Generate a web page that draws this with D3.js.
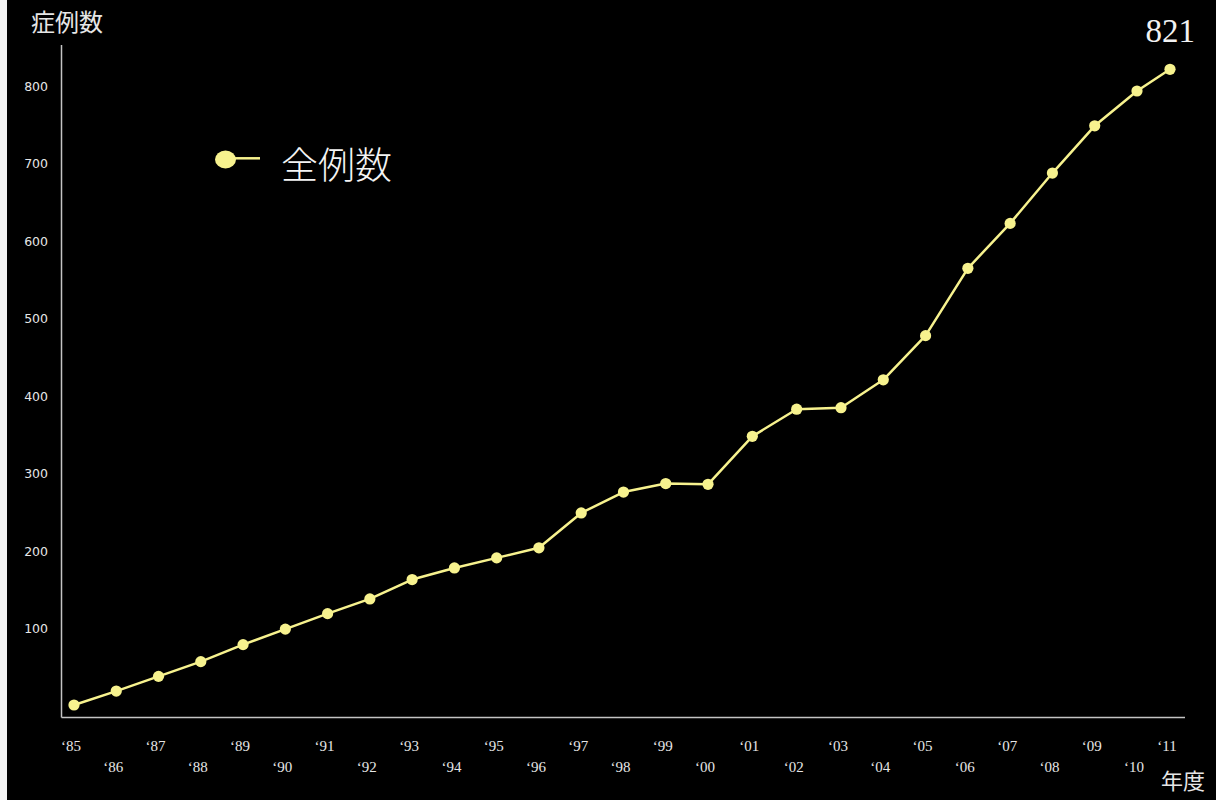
<!DOCTYPE html>
<html>
<head>
<meta charset="utf-8">
<script src="https://cdn.jsdelivr.net/npm/d3@7"></script>
<style>
  html, body { margin: 0; padding: 0; background: #000; }
  svg { display: block; }
</style>
</head>
<body>
<script>
// Cumulative case counts per fiscal year, 1985–2011
const years = ["85","86","87","88","89","90","91","92","93","94","95","96","97","98",
               "99","00","01","02","03","04","05","06","07","08","09","10","11"];
const cases = [0, 18, 37, 56, 78, 98, 118, 137, 162, 177, 190, 203, 248, 275,
               286, 285, 347, 382, 384, 420, 477, 564, 622, 687, 748, 793, 821];
const yTicks = [100, 200, 300, 400, 500, 600, 700, 800];
const yTitle = "症例数";
const xTitle = "年度";
const seriesName = "全例数";

const W = 1216, H = 800;
const lineColor = "#f7f28e";
const axisColor = "#c4c4c4";
const textColor = "#e6e6e6";

const svg = d3.select("body").append("svg")
  .attr("width", W).attr("height", H);

svg.append("rect").attr("width", W).attr("height", H).attr("fill", "#000");
// narrow light strip along the left edge
svg.append("rect").attr("x", 0).attr("y", 0).attr("width", 7).attr("height", H).attr("fill", "#f4f4f4");

// year index -> horizontal position; the year columns are not evenly spaced,
// so the scale is piecewise linear
const x = d3.scaleLinear().domain([0, 15, 18, 25, 26]).range([74, 708, 841, 1137, 1170]);
const y = d3.scaleLinear().domain([0, 821]).range([705, 69.3]);

// axes frame
const axisLeftX = 61.5, axisBottomY = 717.5;
svg.append("line")
  .attr("x1", axisLeftX).attr("x2", axisLeftX)
  .attr("y1", 45).attr("y2", axisBottomY)
  .attr("stroke", axisColor).attr("stroke-width", 1.5);
svg.append("line")
  .attr("x1", axisLeftX).attr("x2", 1185)
  .attr("y1", axisBottomY).attr("y2", axisBottomY)
  .attr("stroke", axisColor).attr("stroke-width", 1.5);

// y tick labels
svg.append("g").selectAll("text").data(yTicks).join("text")
  .attr("x", 48)
  .attr("y", d => y(d) + 1)
  .attr("text-anchor", "end")
  .attr("dominant-baseline", "central")
  .attr("font-family", "'DejaVu Sans', sans-serif")
  .attr("font-size", 12.5)
  .attr("fill", textColor)
  .text(d => d);

// x tick labels, staggered across two rows
svg.append("g").selectAll("text").data(years).join("text")
  .attr("x", (d, i) => x(i) - 3)
  .attr("y", (d, i) => i % 2 === 0 ? 750.5 : 772)
  .attr("text-anchor", "middle")
  .attr("font-family", "'Liberation Serif', serif")
  .attr("font-size", 15)
  .attr("fill", textColor)
  .text(d => "\u2018" + d);

// axis titles
svg.append("text")
  .attr("x", 31).attr("y", 31)
  .attr("font-family", "'Noto Sans CJK JP', sans-serif")
  .attr("font-size", 24)
  .attr("fill", textColor)
  .text(yTitle);

svg.append("text")
  .attr("x", 1161).attr("y", 789)
  .attr("font-family", "'Noto Sans CJK JP', sans-serif")
  .attr("font-size", 22)
  .attr("fill", textColor)
  .text(xTitle);

// series line and markers
const line = d3.line()
  .x((d, i) => x(i))
  .y(d => y(d));

svg.append("path")
  .datum(cases)
  .attr("d", line)
  .attr("fill", "none")
  .attr("stroke", lineColor)
  .attr("stroke-width", 2.5)
  .attr("stroke-linejoin", "round");

svg.append("g").selectAll("circle").data(cases).join("circle")
  .attr("cx", (d, i) => x(i))
  .attr("cy", d => y(d))
  .attr("r", 5.6)
  .attr("fill", lineColor);

// total label for the final year
svg.append("text")
  .attr("x", 1195).attr("y", 41.5)
  .attr("text-anchor", "end")
  .attr("font-family", "'Liberation Serif', serif")
  .attr("font-size", 33)
  .attr("fill", "#f2f2f2")
  .text(cases[cases.length - 1]);

// legend
const legend = svg.append("g");
legend.append("line")
  .attr("x1", 230).attr("x2", 260)
  .attr("y1", 158.3).attr("y2", 158.3)
  .attr("stroke", lineColor).attr("stroke-width", 2.5);
legend.append("ellipse")
  .attr("cx", 225.5).attr("cy", 159.5)
  .attr("rx", 10.5).attr("ry", 9)
  .attr("fill", lineColor);
legend.append("text")
  .attr("x", 281).attr("y", 179)
  .attr("font-family", "'Noto Sans CJK JP', sans-serif")
  .attr("font-size", 37)
  .attr("font-weight", 300)
  .attr("fill", "#f4f4f4")
  .text(seriesName);
</script>
</body>
</html>
